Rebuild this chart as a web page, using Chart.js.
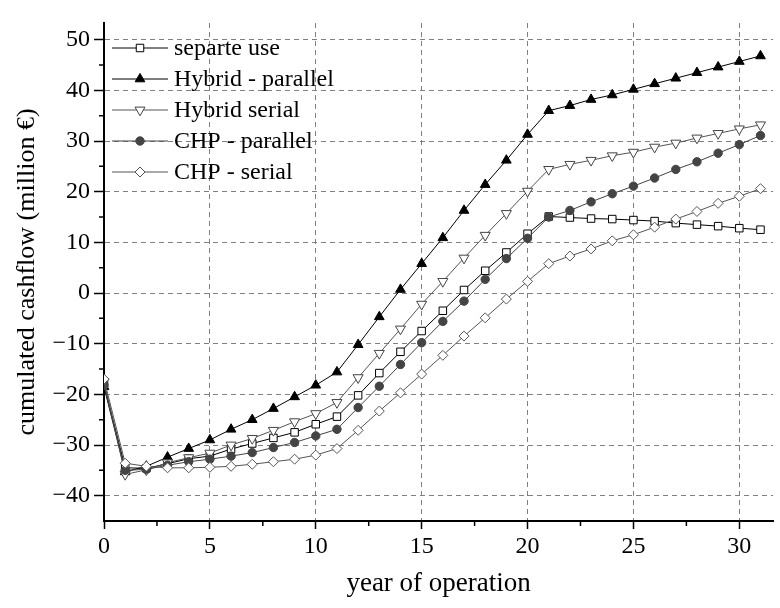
<!DOCTYPE html>
<html>
<head>
<meta charset="utf-8">
<script src="https://cdn.jsdelivr.net/npm/chart.js@4"></script>
<style>
  html, body { margin: 0; padding: 0; background: #fff; }
  #wrap { width: 780px; height: 608px; }
</style>
</head>
<body>
<div id="wrap"><canvas id="grafico" width="780" height="608"></canvas></div>
<script>
const anos = [0,1,2,3,4,5,6,7,8,9,10,11,12,13,14,15,16,17,18,19,20,21,22,23,24,25,26,27,28,29,30,31];

const separteUse = [-18.0,-34.5,-34.6,-33.7,-32.7,-32.2,-30.8,-29.7,-28.6,-27.5,-25.9,-24.4,-20.2,-15.8,-11.6,-7.5,
  -3.5,0.6,4.4,8.0,11.7,15.1,14.9,14.7,14.6,14.4,14.2,13.8,13.5,13.2,12.8,12.5];
const hybridParallel = [-18.5,-35.3,-34.2,-32.4,-30.7,-29.0,-26.9,-25.0,-22.8,-20.5,-18.2,-15.6,-10.2,-4.7,0.7,5.8,
  10.9,16.3,21.4,26.2,31.3,36.0,37.0,38.2,39.1,40.2,41.3,42.4,43.5,44.6,45.7,46.8];
const hybridSerial = [-17.5,-35.8,-34.9,-33.5,-32.5,-31.6,-30.0,-28.7,-27.1,-25.4,-23.8,-21.6,-16.7,-11.9,-7.1,-2.2,
  2.3,6.9,11.4,15.7,20.1,24.4,25.4,26.2,27.1,27.8,28.8,29.6,30.6,31.5,32.4,33.2];
const chpParallel = [-18.2,-35.0,-34.8,-34.0,-33.3,-32.8,-32.2,-31.5,-30.5,-29.5,-28.2,-26.9,-22.6,-18.4,-14.1,-9.8,
  -5.6,-1.6,2.7,6.8,10.8,15.0,16.3,18.0,19.6,21.1,22.7,24.4,25.9,27.6,29.3,31.1];
const chpSerial = [-17.0,-33.6,-34.2,-34.5,-34.5,-34.4,-34.2,-33.8,-33.3,-32.8,-32.0,-30.7,-27.1,-23.3,-19.7,-16.0,
  -12.3,-8.5,-4.9,-1.2,2.3,5.8,7.3,8.7,10.3,11.5,13.0,14.6,16.1,17.7,19.1,20.6];

const nomes = ['separte use', 'Hybrid - parallel', 'Hybrid serial', 'CHP - parallel', 'CHP - serial'];
const ticksX = [0,5,10,15,20,25,30];
const ticksY = [-40,-30,-20,-10,0,10,20,30,40,50];

const fonte = 'Liberation Serif, "Times New Roman", serif';

function serie(valores) {
    return anos.map((a, i) => ({ x: a, y: valores[i] }));
}

const estilos = [
    { linha: '#000', borda: '#000', fundo: '#fff', forma: 'rect', raio: 5.3, rot: 0 },
    { linha: '#000', borda: '#000', fundo: '#000', forma: 'triangle', raio: 5.6, rot: 0 },
    { linha: '#555', borda: '#444', fundo: '#fff', forma: 'triangle', raio: 5.8, rot: 180 },
    { linha: '#444', borda: '#444', fundo: '#444', forma: 'circle', raio: 4.2, rot: 0 },
    { linha: '#555', borda: '#555', fundo: '#fff', forma: 'rectRot', raio: 5.0, rot: 0 }
];
const valores = [separteUse, hybridParallel, hybridSerial, chpParallel, chpSerial];

// tracinhos menores nos eixos + legenda desenhada à mão
const extras = {
    id: 'extras',
    afterDraw(chart) {
        const ctx = chart.ctx;
        const sx = chart.scales.x, sy = chart.scales.y;
        ctx.save();
        ctx.strokeStyle = '#000';
        ctx.lineWidth = 1.5;
        ctx.beginPath();
        for (let i = 0; i < ticksX.length; i++) {
            const v = ticksX[i] + 2.5;
            if (v > sx.max) continue;
            const px = sx.getPixelForValue(v);
            ctx.moveTo(px, sy.bottom);
            ctx.lineTo(px, sy.bottom + 5);
        }
        for (let i = 0; i < ticksY.length; i++) {
            const v = ticksY[i] + 5;
            if (v > sy.max) continue;
            const py = sy.getPixelForValue(v);
            ctx.moveTo(sx.left, py);
            ctx.lineTo(sx.left - 5, py);
        }
        ctx.stroke();

        // legenda
        const x0 = 112, x1 = 168, xm = 140, xt = 174;
        const ys = [48, 79, 110, 141, 172];
        ctx.font = '24px ' + fonte;
        ctx.textBaseline = 'middle';
        ctx.textAlign = 'left';
        estilos.forEach((e, i) => {
            ctx.strokeStyle = e.linha;
            ctx.lineWidth = 1;
            ctx.beginPath();
            ctx.moveTo(x0, ys[i]);
            ctx.lineTo(x1, ys[i]);
            ctx.stroke();
            ctx.fillStyle = e.fundo;
            ctx.strokeStyle = e.borda;
            ctx.lineWidth = 1;
            Chart.helpers.drawPoint(ctx, { pointStyle: e.forma, radius: e.raio, rotation: e.rot, borderWidth: 1 }, xm, ys[i]);
            ctx.fillStyle = '#000';
            ctx.fillText(nomes[i], xt, ys[i] + 1);
        });
        ctx.restore();
    }
};

const ctx = document.getElementById('grafico').getContext('2d');
const meuGrafico = new Chart(ctx, {
    type: 'line',
    data: {
        datasets: estilos.map((e, i) => ({
            label: nomes[i],
            data: serie(valores[i]),
            borderColor: e.linha,
            borderWidth: 1,
            pointStyle: e.forma,
            pointRadius: e.raio,
            pointRotation: e.rot,
            pointBackgroundColor: e.fundo,
            pointBorderColor: e.borda,
            pointBorderWidth: 1,
            tension: 0,
            order: 5 - i
        }))
    },
    options: {
        responsive: false,
        animation: false,
        layout: { padding: { top: 23, right: 0, bottom: 0, left: 0 } },
        plugins: { legend: { display: false }, tooltip: { enabled: false } },
        scales: {
            x: {
                type: 'linear',
                min: 0,
                max: 31.6,
                afterBuildTicks: s => { s.ticks = ticksX.map(v => ({ value: v })); },
                afterFit: s => { s.height = 87; },
                grid: { color: '#808080', lineWidth: 1, tickLength: 8, tickColor: '#000', tickWidth: 1.5, tickBorderDash: [] },
                border: { color: '#000', width: 2, dash: [5, 4] },
                ticks: { color: '#000', font: { family: fonte, size: 24 }, padding: 3, maxRotation: 0, autoSkip: false },
                title: { display: true, text: 'year of operation', color: '#000', font: { family: fonte, size: 27 }, padding: { top: 0, bottom: 8 } }
            },
            y: {
                min: -45,
                max: 53.3,
                afterBuildTicks: s => { s.ticks = ticksY.map(v => ({ value: v })); },
                afterFit: s => { s.width = 104; },
                grid: { color: '#808080', lineWidth: 1, tickLength: 10, tickColor: '#000', tickWidth: 1.5, tickBorderDash: [] },
                border: { color: '#000', width: 2, dash: [5, 4] },
                ticks: {
                    color: '#000', font: { family: fonte, size: 24 }, padding: 4,
                    callback: v => String(v).replace('-', '\u2212')
                },
                title: { display: true, text: 'cumulated cashflow (million €)', color: '#000', font: { family: fonte, size: 26 }, padding: { top: 12, bottom: 0 } }
            }
        }
    },
    plugins: [extras]
});
</script>
</body>
</html>
